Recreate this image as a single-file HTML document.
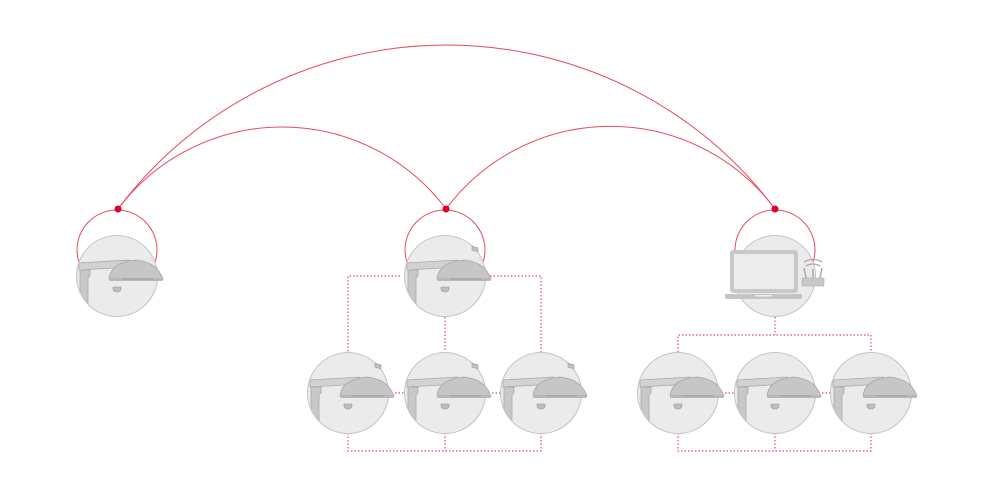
<!DOCTYPE html>
<html><head><style>html,body{margin:0;background:#fff}svg{display:block}</style></head><body>
<svg width="992" height="496" viewBox="0 0 992 496" xmlns="http://www.w3.org/2000/svg">
<defs>
<clipPath id="cc"><circle cx="0" cy="0" r="40"/></clipPath>
<g id="lamp">
<circle r="40.5" fill="#ebebeb" stroke="#c4c4c4" stroke-width="1"/>
<g clip-path="url(#cc)">
<path d="M-38,-13 L12,-16 L14,-9 L-38,-6Z" fill="#d2d2d2" stroke="#a8a8a8" stroke-width="0.8"/>
<path d="M-37,-6 L-27,-6 L-27,0 L-29,2 L-29,40 L-37,40Z" fill="#c8c8c8" stroke="#a8a8a8" stroke-width="0.8"/>
</g>
<path d="M-8,3 Q-6,-14 19,-16 Q40,-14 46,3Z" fill="#c6c6c6" stroke="#a5a5a5" stroke-width="0.8"/>
<rect x="-8" y="2" width="54" height="3" rx="1.5" fill="#b8b8b8"/>
<line x1="5" y1="3" x2="36" y2="3" stroke="#9a9a9a" stroke-width="0.8"/>
<path d="M-4,11 h8 v2 a4,3 0 0 1 -8,0Z" fill="#bdbdbd" stroke="#9a9a9a" stroke-width="0.6"/>
</g>
<g id="cam"><path d="M27,-30 l6,2 v4 l-6,-2Z" fill="#c0c0c0" stroke="#9a9a9a" stroke-width="0.6"/></g>
</defs>

<g fill="none" stroke="#e8485f" stroke-width="1">
<path d="M118,209 A411 411 0 0 1 775,209"/>
<path d="M118,209 A205 205 0 0 1 446,209"/>
<path d="M446,209 A205 205 0 0 1 775,209"/>
<circle cx="117" cy="250" r="40"/>
<circle cx="445" cy="250" r="40"/>
<circle cx="775" cy="250" r="40"/>
</g>

<g fill="none" stroke="#e8485f" stroke-width="1.2" stroke-dasharray="1.5,2">
<path d="M400,276 H348 V352"/>
<path d="M490,276 H541 V352"/>
<path d="M445,317 V352"/>
<path d="M348,433 V451 H541 V433"/>
<path d="M445,433 V451"/>
<path d="M775,317 V335 M678,352 V335 H871 V352"/>
<path d="M678,433 V451 H871 V433 M775,433 V451"/>
<path d="M388,393 H405 M485,393 H501 M718,393 H735 M815,393 H831"/>
</g>

<use href="#lamp" x="117" y="276"/>
<use href="#lamp" x="445" y="276"/><use href="#cam" x="445" y="276"/>
<use href="#lamp" x="348" y="393"/><use href="#cam" x="348" y="393"/>
<use href="#lamp" x="445" y="393"/><use href="#cam" x="445" y="393"/>
<use href="#lamp" x="541" y="393"/><use href="#cam" x="541" y="393"/>
<use href="#lamp" x="678" y="393"/>
<use href="#lamp" x="775" y="393"/>
<use href="#lamp" x="871" y="393"/>

<g>
<circle cx="775" cy="276" r="40.5" fill="#ebebeb" stroke="#c4c4c4"/>
<rect x="730" y="250" width="68" height="43" rx="3" fill="#c8c8c8"/>
<rect x="734" y="254" width="60" height="35" fill="#ececec"/>
<path d="M725,294 H802 V297 Q802,299 800,299 H727 Q725,299 725,297Z" fill="#c4c4c4"/>
<rect x="755" y="295" width="17" height="1.5" fill="#eee"/>
<rect x="802" y="278" width="22" height="8" rx="1" fill="#c8c8c8" stroke="#aaa" stroke-width="0.6"/>
<path d="M806,278 l-2,-10 M820,278 l2,-10 M813,278 v-9" stroke="#aaa" stroke-width="1.5"/>
<path d="M806,266 q7,-4 14,0 M804,262 q9,-5 18,0" fill="none" stroke="#aaa" stroke-width="1.3"/>
</g>

<g fill="#e0002a">
<circle cx="118" cy="209" r="3.5"/>
<circle cx="446" cy="209" r="3.5"/>
<circle cx="775" cy="209" r="3.5"/>
</g>
</svg>
</body></html>
